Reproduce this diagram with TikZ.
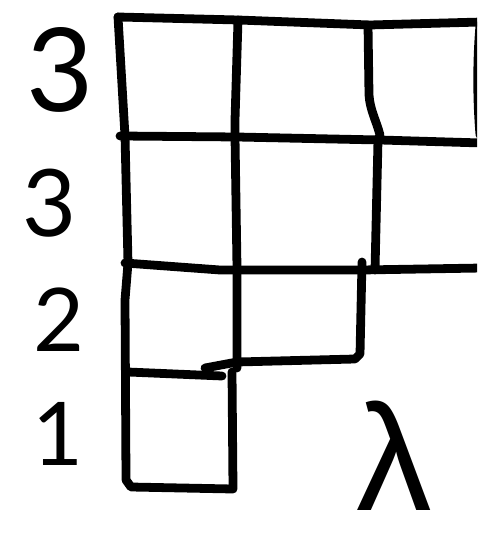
\documentclass[tikz,border=0pt]{standalone}
\usepackage{fontspec}
\setmainfont{Lato}
\newfontfamily\greekfont{Liberation Sans}
\usetikzlibrary{positioning,calc}

\begin{document}
\begin{tikzpicture}[
    x=0.02cm, y=-0.02cm,
    stroke/.style={line width=5pt, line cap=round, line join=round},
    rowlabel/.style={inner sep=0pt},
    shapelabel/.style={font=\greekfont\fontsize{86}{88}\selectfont, inner sep=0pt, text depth=0pt}
]

\useasboundingbox (0,0) rectangle (477,546);
\clip (0,0) rectangle (477,546);

% ============ Row lengths ============
\node[rowlabel, font=\fontsize{66}{70}\selectfont] (len1) at (60,70) {3};
\node[rowlabel, font=\fontsize{53}{56}\selectfont] (len2) at (50,203) {3};
\node[rowlabel, font=\fontsize{50}{54}\selectfont] (len3) at (59,320) {2};
\node[rowlabel, font=\fontsize{50}{54}\selectfont] (len4) at (58,434) {1};

% ============ Young diagram ============
% horizontal lines
\draw[stroke] (118,17) -- (238,20) -- (370,25) -- (482,22);
\draw[stroke] (120,136) -- (237,137) -- (380,140) -- (482,143);
\draw[stroke] (125,263) -- (220,270) -- (362,270) -- (482,268);
\draw[stroke] (128,372) -- (222,376);

% vertical lines
\draw[stroke] (118,17) -- (125,136) -- (128,263) -- (125,300) -- (126,480)
    -- (131,487) -- (233,489) -- (232,372);
\draw[stroke] (238,20) -- (235,120) -- (235,137) -- (237,268) -- (237,368);
\draw[stroke] (368,25) -- (369,95) .. controls (370,110) and (376,120) .. (380,135)
    -- (378,140) -- (375,270);
\draw[stroke] (362,262) -- (360,354) -- (355,359) -- (237,362) -- (205,368);
\draw[stroke] (480,25) .. controls (477,60) and (477,100) .. (480,135);

% ============ Shape name ============
\node[shapelabel, anchor=base] (lam) at (394,510) {λ};

\end{tikzpicture}
\end{document}
